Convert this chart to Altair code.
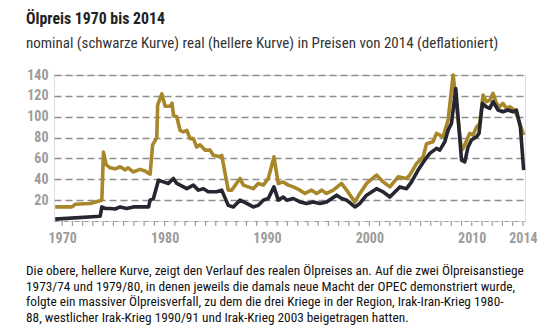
import altair as alt
import pandas as pd

# Real price (lighter, gold curve), in 2014 prices
real_years = [1969.32, 1970.95, 1971.27, 1972.73, 1973.51, 1973.87, 1974.03, 1974.29, 1974.68, 1975.17,
              1975.66, 1976.15, 1976.44, 1976.93, 1977.61, 1978.10, 1978.39, 1978.59, 1978.83, 1979.24,
              1979.32, 1979.73, 1980.05, 1980.54, 1980.73, 1980.88, 1981.19, 1981.51, 1981.83, 1982.17,
              1982.49, 1982.81, 1983.14, 1983.46, 1983.95, 1984.44, 1984.76, 1985.41, 1985.58, 1986.22,
              1986.56, 1987.37, 1987.69, 1988.66, 1989.15, 1989.64, 1990.13, 1990.68, 1991.10, 1991.59,
              1992.08, 1992.57, 1993.22, 1993.71, 1994.36, 1994.85, 1995.34, 1995.82, 1996.47, 1997.29,
              1997.78, 1998.59, 1999.07, 1999.73, 2000.70, 2001.35, 2002.00, 2002.81, 2003.63, 2003.95,
              2004.60, 2005.25, 2005.58, 2006.22, 2006.56, 2007.20, 2007.69, 2008.18, 2009.00, 2009.15,
              2009.80, 2010.13, 2010.46, 2010.78, 2011.10, 2011.43, 2011.76, 2012.08, 2012.41, 2012.73,
              2013.05, 2013.39, 2013.71, 2014.20, 2014.52, 2015.07]
real_values = [13.5, 13.5, 16, 16.8, 19, 20, 66, 54, 51, 50,
               52, 49, 51, 47, 49.5, 48, 46, 45, 73, 80,
               111, 122, 110, 110, 113, 101, 100, 87, 85.5, 87,
               79, 79, 71, 73, 68, 68, 63, 61.5, 63, 29.6,
               29.6, 40.8, 34.4, 31, 36, 34.4, 40.8, 61.5, 36, 37.5,
               34.4, 32.7, 29.6, 26.4, 29.6, 26.4, 29.6, 26.4, 29.6, 36,
               29.6, 18.3, 26.4, 36, 44, 37.5, 32.7, 42.3, 40.8, 44,
               55, 61.5, 74, 76, 84, 80.7, 96.8, 140, 68, 69.6,
               84, 82.4, 90, 93.6, 120.8, 114.4, 116, 122.4, 112.8, 109.5,
               112.8, 108, 109.5, 106, 98.4, 82.4]

# Nominal price (black curve)
nom_years = [1969.32, 1973.71, 1973.87, 1974.20, 1974.68, 1975.17, 1975.66, 1976.31, 1976.96, 1977.61,
             1978.26, 1978.44, 1978.59, 1978.91, 1979.40, 1979.88, 1980.37, 1980.86, 1981.19, 1982.17,
             1982.81, 1983.30, 1983.79, 1984.27, 1985.09, 1985.58, 1986.22, 1986.71, 1987.37, 1988.02,
             1988.66, 1989.15, 1989.64, 1990.13, 1990.68, 1991.10, 1991.59, 1991.92, 1992.57, 1993.22,
             1993.87, 1994.52, 1995.17, 1995.82, 1996.80, 1997.29, 1997.78, 1998.59, 1999.07, 1999.73,
             2000.70, 2001.35, 2002.00, 2002.98, 2003.63, 2004.12, 2004.76, 2005.41, 2005.90, 2006.56,
             2006.88, 2007.37, 2007.69, 2008.02, 2008.44, 2009.00, 2009.32, 2009.64, 2009.97, 2010.46,
             2010.71, 2011.04, 2011.43, 2011.76, 2012.08, 2012.57, 2013.05, 2013.54, 2014.03, 2014.36,
             2014.75, 2015.07]
nom_values = [1.8, 4.6, 13.5, 12, 12, 11.5, 13.5, 12, 13.5, 13.5,
              13.5, 13.5, 20, 21.6, 39, 37.5, 36, 40.8, 36, 31,
              34.4, 29.6, 31, 28, 28, 29.6, 15, 13.5, 20, 16.8,
              13.5, 15, 20, 21.6, 32.7, 20, 23, 20, 21.6, 18.3,
              16.8, 18.3, 16.8, 18.3, 24.8, 21.6, 20, 13.5, 16.8, 24.8,
              31, 28, 23, 32.7, 31, 37.5, 48.8, 58.4, 64.8, 69.6,
              68, 76, 87, 93.6, 127, 58.4, 56.7, 71, 77.6, 80.7,
              84, 112.8, 109.5, 108, 114.4, 106.4, 104.7, 106.4, 104.7, 106.4,
              90, 48.8]

y_ticks = [20, 40, 60, 80, 100, 120, 140]
x_label_values = [1970, 1980, 1990, 2000, 2010, 2015]
x_tick_years = list(range(1970, 2016))

title_text = "Ölpreis 1970 bis 2014"
subtitle_text = "nominal (schwarze Kurve) real (hellere Kurve) in Preisen von 2014 (deflationiert)"
caption_lines = [
    "Die obere, hellere Kurve, zeigt den Verlauf des realen Ölpreises an. Auf die zwei Ölpreisanstiege",
    "1973/74 und 1979/80, in denen jeweils die damals neue Macht der OPEC demonstriert wurde,",
    "folgte ein massiver Ölpreisverfall, zu dem die drei Kriege in der Region, Irak-Iran-Krieg 1980-",
    "88, westlicher Irak-Krieg 1990/91 und Irak-Krieg 2003 beigetragen hatten.",
]

FONT = "'Roboto Condensed', 'Open Sans Condensed', Roboto, sans-serif"
GOLD = "#a8872b"
DARK = "#25262f"
AXIS_GREY = "#9c9c9c"

real_df = pd.DataFrame({"Jahr": real_years, "Preis": real_values})
nom_df = pd.DataFrame({"Jahr": nom_years, "Preis": nom_values})
tick_df = pd.DataFrame({"Jahr": x_tick_years})

x_scale = alt.Scale(domain=[1969.2, 2015.2], nice=False, zero=False)
y_scale = alt.Scale(domain=[0, 140], nice=False)

x_axis = alt.Axis(
    values=x_label_values,
    labelExpr="datum.value == 2015 ? '2014' : datum.value",
    labelOverlap=False,
    grid=False,
    domainColor=AXIS_GREY,
    domainDash=[4, 6],
    domainWidth=1.2,
    ticks=False,
    labelColor=AXIS_GREY,
    labelFont=FONT,
    labelFontSize=14,
    labelFontWeight="bold",
    labelPadding=10,
    labelFlush=False,
    title=None,
)
y_axis = alt.Axis(
    values=y_ticks,
    labelOverlap=False,
    grid=True,
    gridDash=[7, 4],
    gridColor="#8e8e8e",
    gridWidth=1.3,
    domain=False,
    ticks=False,
    labelColor=AXIS_GREY,
    labelFont=FONT,
    labelFontSize=14,
    labelFontWeight="bold",
    labelPadding=6,
    title=None,
)

real_line = alt.Chart(real_df).mark_line(color=GOLD, strokeWidth=3.6, strokeJoin="round").encode(
    x=alt.X("Jahr:Q", scale=x_scale, axis=x_axis),
    y=alt.Y("Preis:Q", scale=y_scale, axis=y_axis),
)
nom_line = alt.Chart(nom_df).mark_line(color=DARK, strokeWidth=3.6, strokeJoin="round").encode(
    x=alt.X("Jahr:Q", scale=x_scale, axis=x_axis),
    y=alt.Y("Preis:Q", scale=y_scale, axis=y_axis),
)
year_ticks = alt.Chart(tick_df).mark_rule(color=AXIS_GREY, strokeWidth=1.2).encode(
    x=alt.X("Jahr:Q", scale=x_scale, axis=x_axis),
    y=alt.value(146),
    y2=alt.value(151),
)

one = pd.DataFrame({"k": [0]})
title_mark = alt.Chart(one).mark_text(
    align="left", baseline="alphabetic", font=FONT, fontSize=15.8, fontWeight="bold", color="#222222"
).encode(x=alt.value(-28), y=alt.value(-51), text=alt.value(title_text))
subtitle_mark = alt.Chart(one).mark_text(
    align="left", baseline="alphabetic", font=FONT, fontSize=15, color="#333333"
).encode(x=alt.value(-28), y=alt.value(-27), text=alt.value(subtitle_text))
caption_mark = alt.Chart(one).mark_text(
    align="left", baseline="alphabetic", font=FONT, fontSize=13.3, lineHeight=15.5, color="#111111"
).encode(x=alt.value(-28), y=alt.value(200), text=alt.value(caption_lines))

chart = alt.layer(year_ticks, real_line, nom_line, title_mark, subtitle_mark, caption_mark).properties(
    width=471,
    height=146,
    autosize=alt.AutoSizeParams(type="none"),
    padding={"left": 54, "top": 75, "right": 28, "bottom": 110},
).configure_view(stroke=None).configure(background="white")

chart.save("out.html", embed_options={"renderer": "svg", "actions": False})
